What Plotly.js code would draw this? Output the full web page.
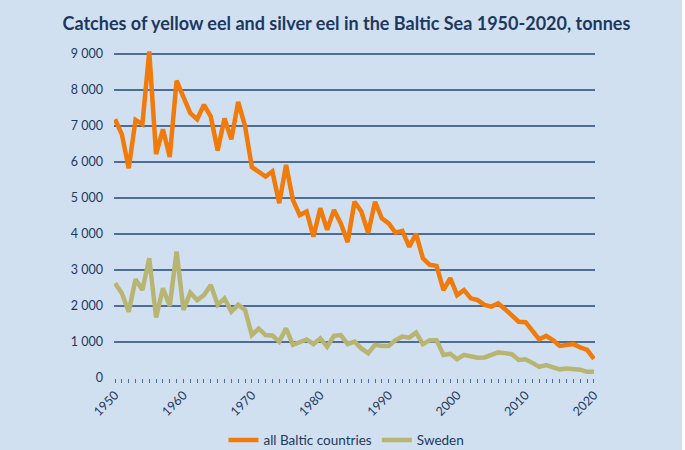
<!DOCTYPE html>
<html>
<head>
<meta charset="utf-8">
<script src="https://cdn.plot.ly/plotly-3.0.1.min.js"></script>
<style>
  html, body { margin: 0; padding: 0; background: #ffffff; }
  #chart { width: 682px; height: 450px; }
</style>
</head>
<body>
<div id="chart"></div>
<script>
const years = [];
for (let y = 1950; y <= 2020; y++) years.push(y);

const allBaltic = [
  7180, 6760, 5820, 7160, 7040, 9060, 6210, 6900, 6130, 8250,
  7790, 7350, 7180, 7580, 7250, 6310, 7200, 6620, 7660, 6990,
  5850, 5720, 5590, 5730, 4850, 5910, 4940, 4520, 4620, 3920,
  4710, 4110, 4660, 4290, 3770, 4890, 4620, 4020, 4890, 4430,
  4290, 4030, 4080, 3640, 4000, 3320, 3140, 3110, 2440, 2770,
  2300, 2440, 2210, 2160, 2030, 1980, 2070, 1910, 1750, 1560,
  1550, 1290, 1070, 1170, 1050, 890, 930, 940, 850, 780,
  530
];

const sweden = [
  2630, 2350, 1840, 2740, 2440, 3320, 1680, 2490, 2000, 3510,
  1890, 2370, 2160, 2300, 2580, 2030, 2210, 1840, 2030, 1890,
  1190, 1370, 1190, 1180, 1010, 1380, 920, 980, 1070, 940,
  1100, 870, 1170, 1190, 940, 1010, 820, 690, 920, 890,
  890, 1050, 1150, 1120, 1260, 940, 1050, 1050, 640, 670,
  520, 640, 590, 560, 570, 640, 710, 690, 660, 500,
  520, 420, 310, 360, 300, 240, 260, 240, 230, 170,
  170
];

const yTickVals = [0, 1000, 2000, 3000, 4000, 5000, 6000, 7000, 8000, 9000];
const yTickText = ["0", "1 000", "2 000", "3 000", "4 000", "5 000", "6 000", "7 000", "8 000", "9 000"];
const xTickVals = [1950, 1960, 1970, 1980, 1990, 2000, 2010, 2020];

const navy = "#1d3860";
const gridCol = "#4d6d96";
const fontFam = "Lato, 'Open Sans', sans-serif";

const traces = [
  {
    x: years, y: allBaltic, name: "all Baltic countries",
    type: "scatter", mode: "lines",
    line: { color: "#f07a0a", width: 4.5 }
  },
  {
    x: years, y: sweden, name: "Sweden",
    type: "scatter", mode: "lines",
    line: { color: "#b8b573", width: 4.5 }
  }
];

const layout = {
  width: 682, height: 450,
  paper_bgcolor: "#d1e0f0",
  plot_bgcolor: "#d1e0f0",
  margin: { l: 114, r: 87, t: 50, b: 72 },
  font: { family: fontFam, color: navy, size: 12 },
  title: {
    text: "<b>Catches of yellow eel and silver eel in the Baltic Sea 1950-2020, tonnes</b>",
    font: { family: fontFam, size: 18, color: navy },
    x: 0.508, xanchor: "center", xref: "container",
    y: 0.948, yanchor: "middle", yref: "container"
  },
  xaxis: {
    range: [1949.85, 2020.15],
    tickvals: xTickVals,
    tickangle: -45,
    ticks: "outside", ticklen: 4, tickcolor: gridCol, tickwidth: 1,
    minor: { dtick: 1, tick0: 1950, ticks: "outside", ticklen: 4, tickcolor: gridCol, tickwidth: 1, showgrid: false },
    showgrid: false, zeroline: false,
    showline: false,
    tickfont: { family: fontFam, size: 12.5, color: navy },
    fixedrange: true
  },
  yaxis: {
    range: [0, 9100],
    tickvals: yTickVals,
    ticktext: yTickText,
    showgrid: true, gridcolor: gridCol, gridwidth: 2,
    zeroline: false, showline: false,
    ticks: "", ticklabelstandoff: 10,
    tickfont: { family: fontFam, size: 12.5, color: navy },
    fixedrange: true
  },
  showlegend: true,
  legend: {
    orientation: "h",
    x: 0.508, xanchor: "center", xref: "container",
    y: 0.022, yanchor: "middle", yref: "container",
    font: { family: fontFam, size: 13.5, color: navy },
    bgcolor: "rgba(0,0,0,0)",
    itemwidth: 30
  }
};

Plotly.newPlot("chart", traces, layout, { displayModeBar: false, staticPlot: true });
</script>
</body>
</html>
